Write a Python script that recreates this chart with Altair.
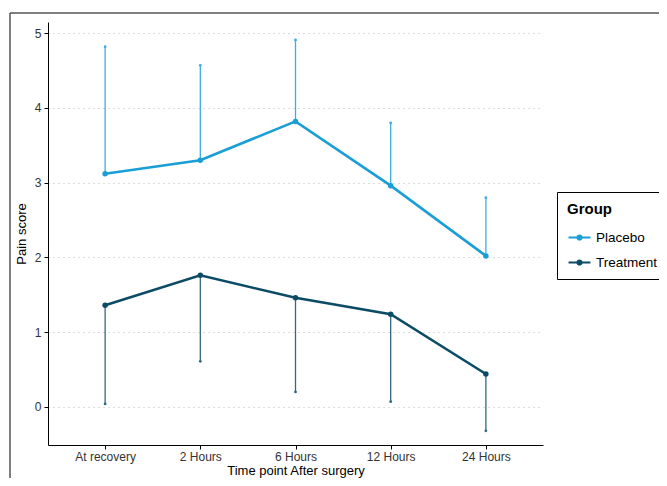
import altair as alt
import pandas as pd

times = ["At recovery", "2 Hours", "6 Hours", "12 Hours", "24 Hours"]
placebo_mean = [3.12, 3.30, 3.82, 2.96, 2.02]
placebo_err_end = [4.82, 4.57, 4.91, 3.80, 2.80]
treatment_mean = [1.36, 1.76, 1.46, 1.24, 0.44]
treatment_err_end = [0.04, 0.61, 0.20, 0.07, -0.32]
groups = ["Placebo", "Treatment"]
colors = ["#1a9ed6", "#0c4b66"]
err_colors = ["#3aaee0", "#2f6b80"]

rows = []
for t, m, e in zip(times, placebo_mean, placebo_err_end):
    rows.append({"Time": t, "Group": "Placebo", "Mean": m, "End": e})
for t, m, e in zip(times, treatment_mean, treatment_err_end):
    rows.append({"Time": t, "Group": "Treatment", "Mean": m, "End": e})
df = pd.DataFrame(rows)

x = alt.X("Time:N", sort=times, title="Time point After surgery",
          scale=alt.Scale(type="point", padding=0.6),
          axis=alt.Axis(labelAngle=0, grid=False, domainColor="black", tickColor="black",
                        tickSize=4, labelPadding=2, titlePadding=2))
y = alt.Y("Mean:Q", title="Pain score",
          scale=alt.Scale(domain=[-0.51, 5.15], nice=False, zero=False),
          axis=alt.Axis(values=[0, 1, 2, 3, 4, 5], format="d", grid=True, gridDash=[1, 4],
                        gridColor="#bbbbbb", gridWidth=1.2, domainColor="black", tickColor="black",
                        tickSize=4, labelPadding=3, titlePadding=6))

color = alt.Color("Group:N", scale=alt.Scale(domain=groups, range=colors),
                  legend=alt.Legend(title="Group", orient="none", legendX=509, legendY=170,
                                    strokeColor="black", padding=10,
                                    symbolType="M-1,0H1M-0.18,0a0.18,0.18 0 1,0 0.36,0a0.18,0.18 0 1,0 -0.36,0",
                                    symbolSize=480, symbolStrokeWidth=2.2,
                                    titleFontSize=15, titleFontWeight="bold", titleColor="black",
                                    titlePadding=8,
                                    labelFontSize=13.5, labelColor="black", rowPadding=6,
                                    labelOffset=4))

base = alt.Chart(df)

err = base.mark_rule(strokeWidth=1.3).encode(
    x=x,
    y=alt.Y("Mean:Q"),
    y2="End:Q",
    color=alt.Color("Group:N", scale=alt.Scale(domain=groups, range=err_colors), legend=None),
)
errcap = base.mark_point(filled=True, size=8, opacity=1).encode(
    x=x,
    y=alt.Y("End:Q"),
    color=alt.Color("Group:N", scale=alt.Scale(domain=groups, range=err_colors), legend=None),
)
line = base.mark_line(strokeWidth=2.6).encode(x=x, y=y, color=color)
pts = base.mark_circle(size=30, opacity=1).encode(
    x=x, y=y, color=alt.Color("Group:N", scale=alt.Scale(domain=groups, range=colors), legend=None))

frame_top = alt.Chart(pd.DataFrame({"a": [0]})).mark_rule(color="#555555", strokeWidth=1.5).encode(
    x=alt.value(-38), x2=alt.value(700), y=alt.value(-9))
frame_left = alt.Chart(pd.DataFrame({"a": [0]})).mark_rule(color="#555555", strokeWidth=1.5).encode(
    x=alt.value(-38), y=alt.value(-9), y2=alt.value(500))

chart = alt.layer(err, errcap, line, pts, frame_top, frame_left).resolve_scale(color="independent").properties(
    width=495, height=423,
    autosize=alt.AutoSizeParams(type="none"),
    padding={"left": 40, "top": 14, "right": 116, "bottom": 33},
).configure_view(stroke=None).configure_axis(
    labelFont="Liberation Sans", titleFont="Liberation Sans", labelFontSize=12, titleFontSize=13,
    labelColor="#333333", titleColor="black", titleFontWeight="normal"
).configure_legend(labelFont="Liberation Sans", titleFont="Liberation Sans")

chart.save("out.html", embed_options={"renderer": "svg", "actions": False})
